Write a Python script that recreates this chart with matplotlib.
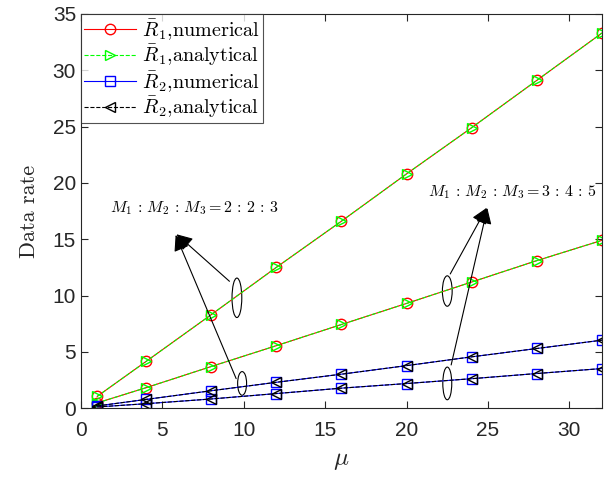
import numpy as np
import matplotlib.pyplot as plt
from matplotlib.patches import Ellipse

plt.rcParams['mathtext.fontset'] = 'cm'
plt.rcParams['font.family'] = ['Liberation Sans', 'DejaVu Sans']

# mu values
mu = [1, 4, 8, 12, 16, 20, 24, 28, 32]

# M1:M2:M3 = 2:2:3
r1_num_a = [1.05, 4.15, 8.3, 12.5, 16.6, 20.8, 24.9, 29.1, 33.3]
r1_ana_a = [1.05, 4.15, 8.3, 12.5, 16.6, 20.8, 24.9, 29.1, 33.3]
r2_num_a = [0.2, 0.78, 1.55, 2.3, 3.02, 3.78, 4.56, 5.3, 6.04]
r2_ana_a = [0.2, 0.78, 1.55, 2.3, 3.02, 3.78, 4.56, 5.3, 6.04]

# M1:M2:M3 = 3:4:5
r1_num_b = [0.47, 1.82, 3.7, 5.55, 7.43, 9.3, 11.2, 13.1, 14.9]
r1_ana_b = [0.47, 1.82, 3.7, 5.55, 7.43, 9.3, 11.2, 13.1, 14.9]
r2_num_b = [0.11, 0.4, 0.82, 1.3, 1.78, 2.19, 2.62, 3.08, 3.52]
r2_ana_b = [0.11, 0.4, 0.82, 1.3, 1.78, 2.19, 2.62, 3.08, 3.52]

fig = plt.figure(figsize=(6.13, 4.78), dpi=100)
ax = fig.add_axes([0.132, 0.146, 0.85, 0.825])

lw = 0.8
ms = 7.5
styles = [
    dict(color='red', ls='-', marker='o', label=r'$\bar{R}_1$,numerical'),
    dict(color=(0, 1, 0), ls='--', marker='>', label=r'$\bar{R}_1$,analytical'),
    dict(color='blue', ls='-', marker='s', label=r'$\bar{R}_2$,numerical'),
    dict(color='black', ls='--', marker='<', label=r'$\bar{R}_2$,analytical'),
]
pairs = [(r1_num_a, r1_num_b), (r1_ana_a, r1_ana_b),
         (r2_num_a, r2_num_b), (r2_ana_a, r2_ana_b)]

for st, (ya, yb) in zip(styles, pairs):
    ax.plot(mu, ya, color=st['color'], ls=st['ls'], marker=st['marker'],
            mfc='none', ms=ms, lw=lw, label=st['label'])
    ax.plot(mu, yb, color=st['color'], ls=st['ls'], marker=st['marker'],
            mfc='none', ms=ms, lw=lw)

ax.set_xlim(0, 32)
ax.set_ylim(0, 35)
ax.set_xticks([0, 5, 10, 15, 20, 25, 30])
ax.set_yticks([0, 5, 10, 15, 20, 25, 30, 35])
ax.tick_params(direction='in', top=True, right=True, labelsize=15,
               colors='0.15', length=5)
ax.tick_params(axis='x', pad=9)
for sp in ax.spines.values():
    sp.set_color('0.15')
    sp.set_linewidth(0.8)

ax.set_xlabel(r'$\mu$', fontsize=18, color='0.15', labelpad=6)
ax.set_ylabel('Data rate', fontsize=16, color='0.15', family='cmr10',
              labelpad=10)

leg = ax.legend(loc='upper left', prop={'family': 'cmr10', 'size': 14.5},
                frameon=True, fancybox=False,
                edgecolor='0.15', borderpad=0.15, labelspacing=0.05,
                handlelength=2.6, handletextpad=0.3, borderaxespad=0)
leg.get_frame().set_linewidth(0.8)

# annotations: ellipses and arrows
ells = [(9.58, 9.8, 0.6, 3.5), (9.9, 2.2, 0.55, 2.1),
        (22.5, 10.4, 0.6, 2.7), (22.5, 2.2, 0.55, 2.9)]
for cx, cy, w, h in ells:
    ax.add_patch(Ellipse((cx, cy), w, h, fill=False, ec='black', lw=0.8))

arrow = dict(arrowstyle='-|>', color='black', lw=0.8, mutation_scale=24)
ax.annotate('', xy=(5.75, 15.6), xytext=(9.25, 11.1), arrowprops=arrow)
ax.annotate('', xy=(5.75, 15.6), xytext=(9.6, 2.4), arrowprops=arrow)
ax.annotate('', xy=(25.0, 18.0), xytext=(22.6, 11.7), arrowprops=arrow)
ax.annotate('', xy=(25.0, 18.0), xytext=(22.7, 3.6), arrowprops=arrow)

ax.text(1.8, 17.8, r'$M_1\,:\,M_2\,:\,M_3 = 2\,:\,2\,:\,3$', fontsize=11.5,
        va='center')
ax.text(21.3, 19.2, r'$M_1\,:\,M_2\,:\,M_3 = 3\,:\,4\,:\,5$', fontsize=11.5,
        va='center')

fig.savefig('out.png', dpi=100)
